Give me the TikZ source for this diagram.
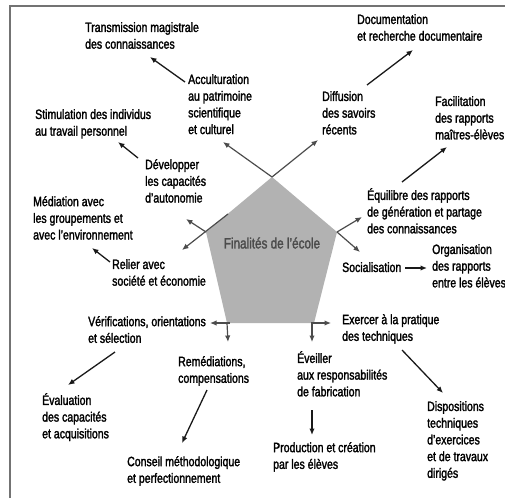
\documentclass[tikz,border=0pt]{standalone}
\usepackage{fontspec}
\setmainfont{Liberation Sans}[FakeStretch=0.78,FakeBold=1.8]
\usetikzlibrary{arrows.meta}

\begin{document}
\begin{tikzpicture}[x=1pt, y=-1pt, every node/.style={inner sep=0pt, align=left, anchor=north west, font=\fontsize{13.5}{16.7}\selectfont}, >={Latex[length=6.5pt,width=5.5pt]}]

\tikzstyle{fleche}=[->, line width=1.3pt, black!90]
\tikzstyle{rayon}=[->, line width=1.2pt, black!70]

\useasboundingbox (0,0) rectangle (505,498);
\draw[black!55, line width=2.5pt] (10,498) -- (10,6) -- (505,6);

\coordinate (haut) at (272,177);
\coordinate (droite) at (337,232);
\coordinate (basdroite) at (314,323);
\coordinate (basgauche) at (227,323);
\coordinate (gauche) at (206,232);
\coordinate (arete) at (228,214);

\fill[black!30] (haut) -- (droite) -- (basdroite) -- (basgauche) -- (gauche) -- cycle;
\node[anchor=center, black!70, font=\fontsize{15}{18}\selectfont] (finalites) at (272,243) {Finalités de l'école};

\node (transm) at (85,22) {Transmission magistrale\\des connaissances};
\node (accult) at (188,74) {Acculturation\\au patrimoine\\scientifique\\et culturel};
\node (stimul) at (35,109) {Stimulation des individus\\au travail personnel};
\node (dvlp) at (145,159) {Développer\\les capacités\\d'autonomie};
\node (mediat) at (33,196) {Médiation avec\\les groupements et\\avec l'environnement};
\node (relier) at (112,259) {Relier avec\\société et économie};
\node (verif) at (88,316) {Vérifications, orientations\\et sélection};
\node (eval) at (42,393) {Évaluation\\des capacités\\et acquisitions};
\node (remed) at (178,356) {Remédiations,\\compensations};
\node (conseil) at (127,456) {Conseil méthodologique\\et perfectionnement};
\node (doc) at (357,14) {Documentation\\et recherche documentaire};
\node (diffus) at (322,91) {Diffusion\\des savoirs\\récents};
\node (facil) at (435,96) {Facilitation\\des rapports\\maîtres-élèves};
\node (equil) at (367,188) {Équilibre des rapports\\de génération et partage\\des connaissances};
\node (social) at (342,262) {Socialisation};
\node (organ) at (432,244) {Organisation\\des rapports\\entre les élèves};
\node (exercer) at (342,314) {Exercer à la pratique\\des techniques};
\node (eveil) at (297,351) {Éveiller\\aux responsabilités\\de fabrication};
\node (prod) at (273,442) {Production et création\\par les élèves};
\node (dispo) at (427,401) {Dispositions\\techniques\\d'exercices\\et de travaux\\dirigés};

\coordinate (accult-out) at (185,82);   \coordinate (transm-in) at (150,57);
\coordinate (dvlp-out) at (138,158);    \coordinate (stimul-in) at (118,142);
\coordinate (relier-out) at (110,262);  \coordinate (mediat-in) at (92,248);
\coordinate (verif-out) at (115,352);   \coordinate (eval-in) at (68,385);
\coordinate (remed-out) at (207,390);   \coordinate (conseil-in) at (182,443);
\coordinate (diffus-out) at (367,85);   \coordinate (doc-in) at (413,50);
\coordinate (equil-out) at (402,182);   \coordinate (facil-in) at (447,147);
\coordinate (social-out) at (405,268);  \coordinate (organ-in) at (427,268);
\coordinate (exercer-out) at (402,350); \coordinate (dispo-in) at (443,393);
\coordinate (eveil-out) at (312,410);   \coordinate (prod-in) at (312,435);

\coordinate (accult-in) at (223,142);   \coordinate (diffus-in) at (318,140);
\coordinate (dvlp-in) at (186,219);     \coordinate (relier-in) at (182,250);
\coordinate (equil-in) at (362,217);    \coordinate (social-in) at (360,252);
\coordinate (verif-in) at (210,323);    \coordinate (remed-in) at (228,342);
\coordinate (exercer-in) at (331,323);  \coordinate (eveil-in) at (312,342);

\draw[fleche] (accult-out) -- (transm-in);
\draw[fleche] (dvlp-out) -- (stimul-in);
\draw[fleche] (relier-out) -- (mediat-in);
\draw[fleche] (verif-out) -- (eval-in);
\draw[fleche] (remed-out) -- (conseil-in);
\draw[fleche] (diffus-out) -- (doc-in);
\draw[fleche] (equil-out) -- (facil-in);
\draw[fleche] (social-out) -- (organ-in);
\draw[fleche] (exercer-out) -- (dispo-in);
\draw[fleche] (eveil-out) -- (prod-in);

\draw[rayon] (haut) -- (accult-in);
\draw[rayon] (haut) -- (diffus-in);
\draw[rayon] (gauche) -- (dvlp-in);
\draw[rayon] (arete) -- (relier-in);
\draw[rayon] (droite) -- (equil-in);
\draw[rayon] (droite) -- (social-in);
\draw[rayon] ([xshift=3pt]basgauche) -- (verif-in);
\draw[rayon] (basgauche) -- (remed-in);
\draw[rayon] ([xshift=-3pt]basdroite) -- (exercer-in);
\draw[rayon] ([xshift=-2pt]basdroite) -- (eveil-in);

\end{tikzpicture}
\end{document}
